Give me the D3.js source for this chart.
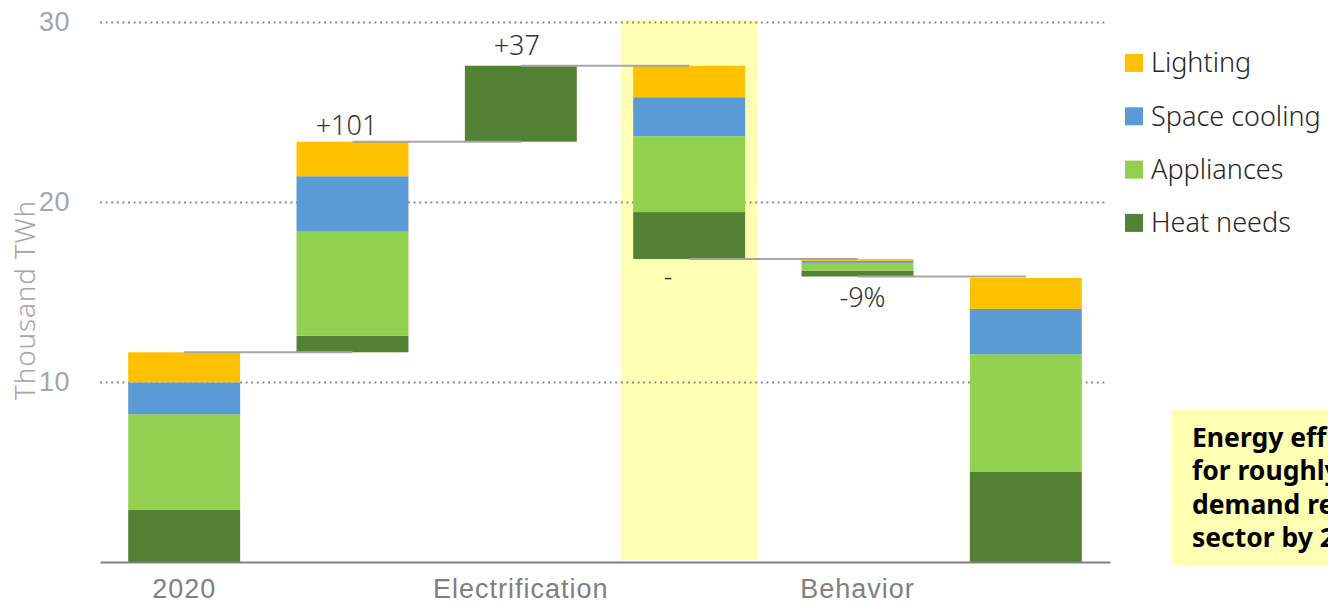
<!DOCTYPE html>
<html>
<head>
<meta charset="utf-8">
<script src="https://cdn.jsdelivr.net/npm/d3@7"></script>
<style>
  body { margin: 0; background: #fff; }
  svg { display: block; font-family: "Noto Sans", "Open Sans", sans-serif; }
</style>
</head>
<body>
<svg class="waterfall" width="1328" height="606"></svg>
<script>
(function () {
'use strict';

// waterfall steps, values in thousand TWh
var steps = ['2020', 'growth', 'Electrification', 'efficiency', 'Behavior', 'final'];
var axisLabels = ['2020', '', 'Electrification', '', 'Behavior', ''];
var stepTypes = ['total', 'up', 'up', 'down', 'down', 'total'];
var changeLabels = ['', '+101', '+37', '-', '-9%', ''];

var heatNeeds = [2.89, 0.92, 4.22, 2.61, 0.33, 5.0];
var appliances = [5.32, 5.82, 0, 4.21, 0.43, 6.54];
var spaceCooling = [1.77, 3.04, 0, 2.17, 0.11, 2.52];
var lighting = [1.67, 1.92, 0, 1.75, 0.10, 1.72];

var seriesNames = ['Heat needs', 'Appliances', 'Space cooling', 'Lighting'];
var seriesValues = [heatNeeds, appliances, spaceCooling, lighting];
var yTicks = [10, 20, 30];

var highlightStep = 'efficiency';
var noteLines = ['Energy efficiency', 'for roughly', 'demand reduction', 'sector by 2050'];

var colors = {
    'Heat needs': '#548235',
    'Appliances': '#92d050',
    'Space cooling': '#5b9bd5',
    'Lighting': '#ffc000'
};
// label nudges, as placed in the original
var labelDx = [0, -6, -4, -21, 5, 0];
var labelDy = [0, -7, -11, 27, 30, 0];

var svg = d3.select('.waterfall');

var x = d3.scaleBand()
    .domain(steps)
    .range([100, 1110])
    .paddingInner(0.335)
    .paddingOuter(0.1675);

var y = d3.scaleLinear()
    .domain([0, 30])
    .range([562, 22]);

function buildSteps() {
    var level = 0;
    return steps.map(function (name, i) {
        var total = d3.sum(seriesValues, function (s) { return s[i]; });
        var base;
        if (stepTypes[i] === 'total') {
            base = 0;
            level = total;
        } else if (stepTypes[i] === 'up') {
            base = level;
            level = level + total;
        } else {
            base = level - total;
            level = base;
        }
        var segs = [];
        var acc = base;
        seriesNames.forEach(function (n, k) {
            var v = seriesValues[k][i];
            if (v > 0) {
                segs.push({ series: n, y0: acc, y1: acc + v });
            }
            acc += v;
        });
        return { name: name, index: i, type: stepTypes[i], base: base, top: base + total, end: level, segs: segs };
    });
}

var data = buildSteps();

// highlight band behind the efficiency step
var hx = x(highlightStep) + x.bandwidth() / 2;
var hw = x.bandwidth() * 1.22;
svg.append('rect')
    .attr('x', hx - hw / 2)
    .attr('y', y(30) - 2)
    .attr('width', hw)
    .attr('height', y(0) - y(30))
    .attr('fill', '#ffffb4');

// gridlines + y labels
var yAxis = svg.append('g')
    .attr('class', 'y-axis')
    .attr('transform', 'translate(100,0)')
    .call(d3.axisLeft(y).tickValues(yTicks).tickSize(-1007).tickPadding(30));

yAxis.select('.domain').remove();
yAxis.selectAll('.tick line')
    .attr('stroke', '#8c8c8c')
    .attr('stroke-width', 2)
    .attr('stroke-dasharray', '2 3.6');
yAxis.selectAll('.tick text')
    .attr('fill', '#a6a6a6')
    .attr('font-size', 27)
    .attr('font-weight', 300)
    .attr('letter-spacing', 0.5);

svg.append('text')
    .attr('transform', 'translate(35,300) rotate(-90)')
    .attr('text-anchor', 'middle')
    .attr('fill', '#a6a6a6')
    .attr('font-size', 28)
    .attr('font-weight', 300)
    .attr('letter-spacing', 0.8)
    .text('Thousand TWh');

// bars
var barGroups = svg.append('g')
    .attr('class', 'bars')
    .selectAll('g')
    .data(data)
    .enter().append('g');

barGroups.selectAll('rect')
    .data(function (d) { return d.segs.map(function (s) { s.step = d.name; return s; }); })
    .enter().append('rect')
    .attr('x', function (s) { return x(s.step); })
    .attr('width', x.bandwidth())
    .attr('y', function (s) { return y(s.y1); })
    .attr('height', function (s) { return y(s.y0) - y(s.y1); })
    .attr('fill', function (s) { return colors[s.series]; });

// x axis
var xAxis = svg.append('g')
    .attr('class', 'x-axis')
    .attr('transform', 'translate(0,' + y(0) + ')')
    .call(d3.axisBottom(x)
        .tickSize(0)
        .tickSizeOuter(0)
        .tickPadding(17)
        .tickFormat(function (d, i) { return axisLabels[i]; }));

xAxis.select('.domain')
    .attr('stroke', '#808080')
    .attr('stroke-width', 2);
xAxis.selectAll('.tick text')
    .attr('fill', '#808080')
    .attr('font-size', 27)
    .attr('font-weight', 300)
    .attr('letter-spacing', 1);

// connectors between step centres at the running level
var links = data.slice(0, -1).map(function (d, i) {
    return { from: d, to: data[i + 1], level: d.end };
});

svg.append('g')
    .attr('class', 'connectors')
    .selectAll('line')
    .data(links)
    .enter().append('line')
    .attr('x1', function (l) { return x(l.from.name) + x.bandwidth() / 2; })
    .attr('x2', function (l) { return x(l.to.name) + x.bandwidth() / 2; })
    .attr('y1', function (l) { return y(l.level); })
    .attr('y2', function (l) { return y(l.level); })
    .attr('stroke', '#a6a6a6')
    .attr('stroke-width', 2);

// change labels
svg.append('g')
    .attr('class', 'change-labels')
    .selectAll('text')
    .data(data.filter(function (d) { return changeLabels[d.index] !== ''; }))
    .enter().append('text')
    .attr('x', function (d) { return x(d.name) + x.bandwidth() / 2 + labelDx[d.index]; })
    .attr('y', function (d) {
        return d.type === 'up' ? y(d.top) + labelDy[d.index] : y(d.base) + labelDy[d.index];
    })
    .attr('text-anchor', 'middle')
    .attr('fill', '#333')
    .attr('font-size', 27)
    .attr('font-weight', 300)
    .text(function (d) { return changeLabels[d.index]; });

// legend, top entry first
var legendOrder = seriesNames.slice().reverse();
var legend = svg.append('g')
    .attr('class', 'legend')
    .attr('transform', 'translate(1125,63)');

var items = legend.selectAll('g')
    .data(legendOrder)
    .enter().append('g')
    .attr('transform', function (d, i) { return 'translate(0,' + (i * 53.3) + ')'; });

items.append('rect')
    .attr('x', 0)
    .attr('y', -9)
    .attr('width', 18)
    .attr('height', 18)
    .attr('fill', function (d) { return colors[d]; });

items.append('text')
    .attr('x', 26)
    .attr('dy', '0.35em')
    .attr('fill', '#262626')
    .attr('font-size', 27)
    .attr('font-weight', 300)
    .text(function (d) { return d; });

// note box, cut off by the right edge like the original
var note = svg.append('g').attr('class', 'note');
note.append('rect')
    .attr('x', 1172)
    .attr('y', 410)
    .attr('width', 200)
    .attr('height', 155)
    .attr('fill', '#ffffb4');

note.selectAll('text')
    .data(noteLines)
    .enter().append('text')
    .attr('x', 1192)
    .attr('y', function (d, i) { return 447 + i * 33.3; })
    .attr('fill', '#000')
    .attr('font-size', 26.5)
    .attr('font-weight', 700)
    .text(function (d) { return d; });
})();
</script>
</body>
</html>
